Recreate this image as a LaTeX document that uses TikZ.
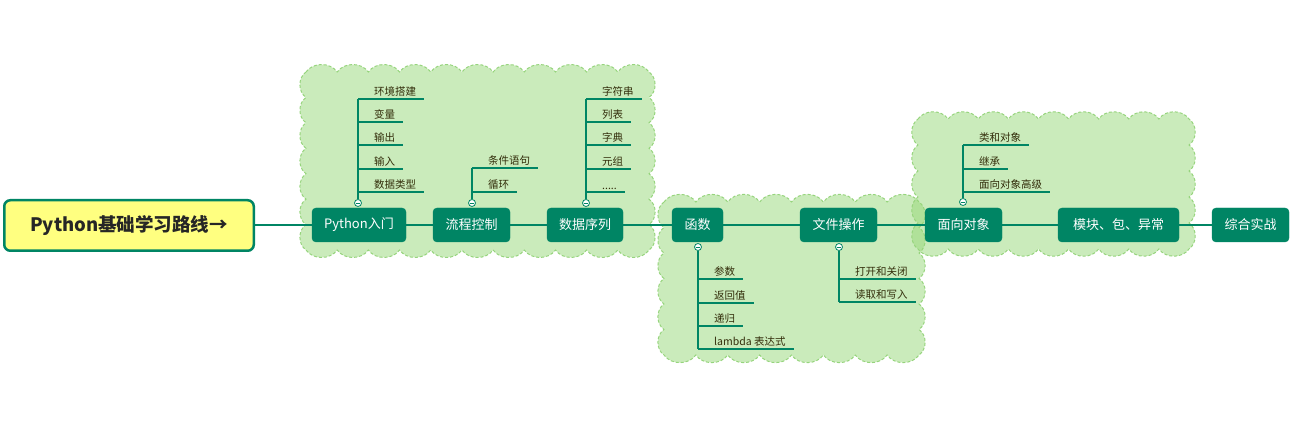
\documentclass[tikz,border=0pt]{standalone}
\usepackage{fontspec}
\setmainfont{Noto Sans CJK SC}
\definecolor{teal1}{RGB}{0,133,100}
\definecolor{cloudfill}{RGB}{150,215,120}
\definecolor{clouddraw}{RGB}{150,212,125}
\definecolor{titlefill}{RGB}{255,255,128}
\definecolor{subtext}{RGB}{50,45,10}
\tikzset{
  topic/.style={draw=teal1, fill=teal1, rounded corners=4pt, text=white,
    font=\fontsize{13}{15}\selectfont, minimum height=34pt, inner xsep=2pt},
  titlebox/.style={draw=teal1, line width=2.5pt, fill=titlefill, rounded corners=6pt,
    minimum width=249.5pt, minimum height=50.5pt, text=black!85,
    font=\fontsize{18.5}{20}\selectfont\bfseries},
  sub/.style={anchor=south west, inner xsep=8pt, inner ysep=2.5pt, text=subtext,
    font=\fontsize{10.5}{12}\selectfont},
  subline/.style={draw=teal1, line width=1.6pt},
  mainline/.style={draw=teal1, line width=2.2pt},
  fold/.style={circle, draw=teal1, fill=white, line width=0.8pt, minimum size=7pt,
    inner sep=0pt, path picture={\draw[teal1, line width=0.6pt]
      ([xshift=-2pt]path picture bounding box.center) --
      ([xshift=2pt]path picture bounding box.center);}},
  cloudsty/.style={fill=cloudfill, fill opacity=0.5, draw=clouddraw, draw opacity=1,
    dash pattern=on 3pt off 2pt, line width=1pt},
}
% x0 y0 x1 y1 nx ny
\newcommand\cloudrect[6]{%
  \path[cloudsty] (#1,#2)
    \foreach \i in {1,...,#5} { to[bend left=55] ({#1+(#3-#1)*\i/#5},#2) }
    \foreach \i in {1,...,#6} { to[bend left=55] (#3,{#2+(#4-#2)*\i/#6}) }
    \foreach \i in {1,...,#5} { to[bend left=55] ({#3-(#3-#1)*\i/#5},#4) }
    \foreach \i in {1,...,#6} { to[bend left=55] (#1,{#4-(#4-#2)*\i/#6}) }
    -- cycle;
}
\begin{document}
\begin{tikzpicture}[x=1pt,y=-1pt]
\useasboundingbox (0,0) rectangle (1306,427);
% clouds
\cloudrect{306}{72}{649}{250}{11}{7}
\cloudrect{664}{202}{919}{355}{8}{6}
\cloudrect{918}{119}{1189}{249}{9}{5}

% title and main topics
\node[titlebox] (t) at (129,225.5) {Python基础学习路线→};
\node[topic, minimum width=94pt] (n1) at (359,225) {Python入门};
\node[topic, minimum width=77pt] (n2) at (471.5,225) {流程控制};
\node[topic, minimum width=76pt] (n3) at (585,225) {数据序列};
\node[topic, minimum width=51pt] (n4) at (697.5,225) {函数};
\node[topic, minimum width=77pt] (n5) at (838.5,225) {文件操作};
\node[topic, minimum width=77pt] (n6) at (963.5,225) {面向对象};
\node[topic, minimum width=121pt] (n7) at (1118.5,225) {模块、包、异常};
\node[topic, minimum width=77pt] (n8) at (1250.5,225) {综合实战};

\draw[mainline] (t.east |- n1.west) -- (n1.west);
\draw[mainline] (n1.east) -- (n2.west);
\draw[mainline] (n2.east) -- (n3.west);
\draw[mainline] (n3.east) -- (n4.west);
\draw[mainline] (n4.east) -- (n5.west);
\draw[mainline] (n5.east) -- (n6.west);
\draw[mainline] (n6.east) -- (n7.west);
\draw[mainline] (n7.east) -- (n8.west);

% fold markers
\node[fold] (f1) at (358,203) {};
\node[fold] (f2) at (472,203) {};
\node[fold] (f3) at (586,203) {};
\node[fold] (f4) at (698,247) {};
\node[fold] (f5) at (839,247) {};
\node[fold] (f6) at (963,202) {};

% Python入门
\node[sub] (a1) at (366,99) {环境搭建};
\node[sub] (a2) at (366,122) {变量};
\node[sub] (a3) at (366,145) {输出};
\node[sub] (a4) at (366,169) {输入};
\node[sub] (a5) at (366,192) {数据类型};
\draw[subline] (f1.north) -- (f1 |- a1.south);
\foreach \s in {a1,a2,a3,a4,a5} \draw[subline] (\s.south west -| f1) -- (\s.south east);

% 流程控制
\node[sub] (b1) at (480,168) {条件语句};
\node[sub] (b2) at (480,192) {循环};
\draw[subline] (f2.north) -- (f2 |- b1.south);
\foreach \s in {b1,b2} \draw[subline] (\s.south west -| f2) -- (\s.south east);

% 数据序列
\node[sub] (c1) at (594,99) {字符串};
\node[sub] (c2) at (594,122) {列表};
\node[sub] (c3) at (594,145) {字典};
\node[sub] (c4) at (594,169) {元组};
\node[sub] (c5) at (594,192) {.....};
\draw[subline] (f3.north) -- (f3 |- c1.south);
\foreach \s in {c1,c2,c3,c4,c5} \draw[subline] (\s.south west -| f3) -- (\s.south east);

% 函数
\node[sub] (d1) at (706,279) {参数};
\node[sub] (d2) at (706,303) {返回值};
\node[sub] (d3) at (706,326) {递归};
\node[sub] (d4) at (706,349) {lambda 表达式};
\draw[subline] (f4.south) -- (f4 |- d4.south);
\foreach \s in {d1,d2,d3,d4} \draw[subline] (\s.south west -| f4) -- (\s.south east);

% 文件操作
\node[sub] (e1) at (847,279) {打开和关闭};
\node[sub] (e2) at (847,302) {读取和写入};
\draw[subline] (f5.south) -- (f5 |- e2.south);
\foreach \s in {e1,e2} \draw[subline] (\s.south west -| f5) -- (\s.south east);

% 面向对象
\node[sub] (g1) at (971,145) {类和对象};
\node[sub] (g2) at (971,169) {继承};
\node[sub] (g3) at (971,192) {面向对象高级};
\draw[subline] (f6.north) -- (f6 |- g1.south);
\foreach \s in {g1,g2,g3} \draw[subline] (\s.south west -| f6) -- (\s.south east);
\end{tikzpicture}
\end{document}
